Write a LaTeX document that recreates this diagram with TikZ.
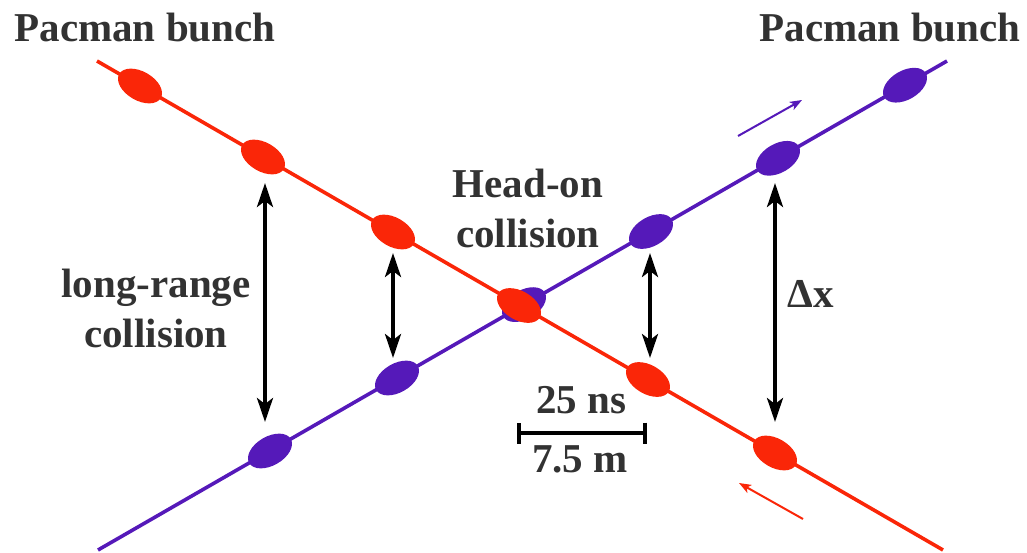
\documentclass[tikz,border=0pt]{standalone}
\usepackage{fontspec}
\setmainfont{Liberation Serif}
\usetikzlibrary{shapes.geometric,arrows.meta}

\definecolor{beamred}{RGB}{250,38,8}
\definecolor{beampurple}{RGB}{85,25,185}
\definecolor{labelgray}{RGB}{50,50,50}

\begin{document}
\begin{tikzpicture}[x=0.5pt, y=-0.5pt,
  bunch/.style={ellipse, inner sep=0pt, minimum width=24pt, minimum height=14.5pt},
  beam/.style={line width=1.8pt},
  sepArrow/.style={{Stealth[length=12pt,width=8pt,inset=3pt]}-{Stealth[length=12pt,width=8pt,inset=3pt]}, line width=1.8pt, black},
  dirArrow/.style={-{Stealth[length=6pt,width=4.5pt,inset=1.5pt]}, line width=1pt},
  lbl/.style={font=\fontsize{20.5}{25}\selectfont\bfseries, text=labelgray, align=center, inner sep=0pt, anchor=base}]
  % fixed frame (pixel units of the original figure)
  \useasboundingbox (0,0) rectangle (1027,552);

  % 1. beam lines: end points
  \coordinate (purpleStart) at (98,550);
  \coordinate (purpleEnd)   at (947,61);
  \coordinate (redStart)    at (97,61);
  \coordinate (redEnd)      at (943,550);

  % 2. purple beam (drawn first, red crosses on top)
  \draw[beam, beampurple] (purpleStart) -- (purpleEnd);
  \node[bunch, fill=beampurple, rotate=30] (p1) at (270,451) {};
  \node[bunch, fill=beampurple, rotate=30] (p2) at (397,378) {};
  \node[bunch, fill=beampurple, rotate=30] (p3) at (524,304.6) {};
  \node[bunch, fill=beampurple, rotate=30] (p4) at (651,231.5) {};
  \node[bunch, fill=beampurple, rotate=30] (p5) at (778,158.3) {};
  \node[bunch, fill=beampurple, rotate=30] (p6) at (905,85.2) {};

  % 3. red beam
  \draw[beam, beamred] (redStart) -- (redEnd);
  \node[bunch, fill=beamred, rotate=-30] (r1) at (140,86) {};
  \node[bunch, fill=beamred, rotate=-30] (r2) at (263,157) {};
  \node[bunch, fill=beamred, rotate=-30] (r3) at (393,232) {};
  \node[bunch, fill=beamred, rotate=-30] (r4) at (519,305.5) {};
  \node[bunch, fill=beamred, rotate=-30] (r5) at (648,379.5) {};
  \node[bunch, fill=beamred, rotate=-30] (r6) at (775,453) {};

  % 4. separation arrows between the two beams
  \coordinate (lrOuterTop) at (265,183);
  \coordinate (lrOuterBot) at (265,422);
  \coordinate (lrInnerTop) at (393,253);
  \coordinate (lrInnerBot) at (393,358);
  \coordinate (rInnerTop)  at (650,253);
  \coordinate (rInnerBot)  at (650,358);
  \coordinate (rOuterTop)  at (775,183);
  \coordinate (rOuterBot)  at (775,422);
  \draw[sepArrow] (lrOuterTop) -- (lrOuterBot);
  \draw[sepArrow] (lrInnerTop) -- (lrInnerBot);
  \draw[sepArrow] (rInnerTop) -- (rInnerBot);
  \draw[sepArrow] (rOuterTop) -- (rOuterBot);

  % 5. direction of motion
  \coordinate (purpleDirFrom) at (738,136);
  \coordinate (purpleDirTo)   at (802,100);
  \coordinate (redDirFrom)    at (803,519);
  \coordinate (redDirTo)      at (739,483);
  \draw[dirArrow, beampurple] (purpleDirFrom) -- (purpleDirTo);
  \draw[dirArrow, beamred] (redDirFrom) -- (redDirTo);

  % 6. bunch spacing scale bar
  \coordinate (barLeft)  at (517,433);
  \coordinate (barRight) at (647,433);
  \draw[{Bar[width=10.5pt,line width=1.8pt]}-{Bar[width=10.5pt,line width=1.8pt]}, line width=2pt, black]
    (barLeft) -- (barRight);

  % 7. labels (base = last line)
  \node[lbl] (pacLeft)  at (145,41) {Pacman bunch};
  \node[lbl] (pacRight) at (890,41) {Pacman bunch};
  \node[lbl] (headOn)   at (528,247) {Head-on\\collision};
  \node[lbl] (longRange) at (156,347) {long-range\\collision};
  \node[lbl] (deltaX)   at (811,307) {Δx};
  \node[lbl] (timeLbl)  at (581,413) {25 ns};
  \node[lbl] (distLbl)  at (580,472) {7.5 m};
\end{tikzpicture}
\end{document}
